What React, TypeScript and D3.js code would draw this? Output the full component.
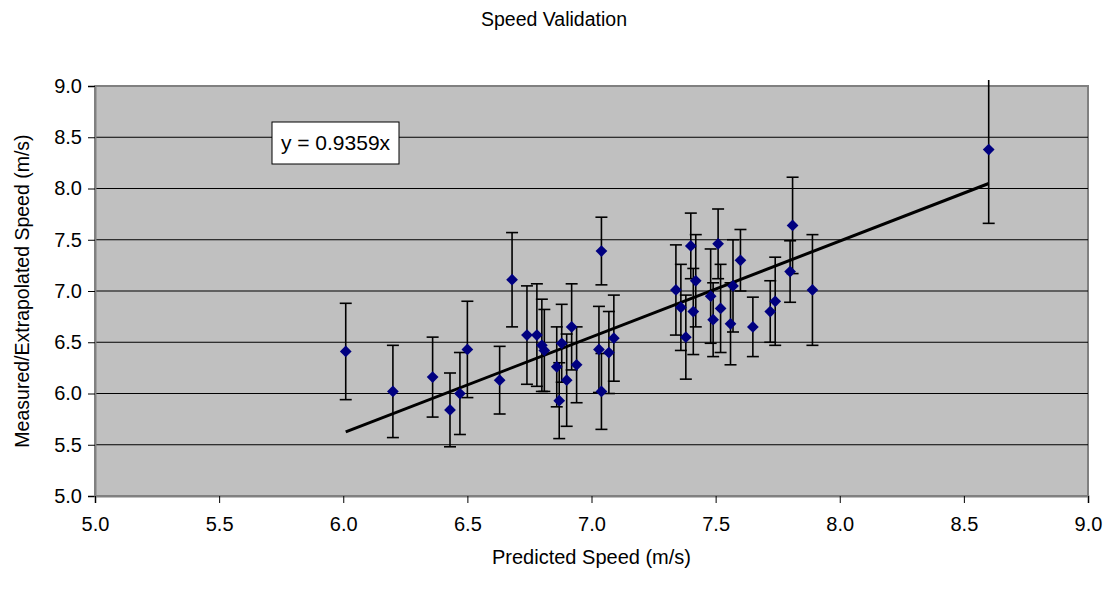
import React, { useEffect, useRef } from "react";
import * as d3 from "d3";

// values
const predicted = [
  6.01, 6.2, 6.36, 6.43, 6.47, 6.5, 6.63, 6.68, 6.74, 6.78, 6.8, 6.81, 6.86,
  6.87, 6.88, 6.9, 6.92, 6.94, 7.03, 7.04, 7.04, 7.07, 7.09, 7.34, 7.36, 7.38,
  7.4, 7.41, 7.42, 7.48, 7.49, 7.51, 7.52, 7.56, 7.57, 7.6, 7.65, 7.72, 7.74,
  7.8, 7.81, 7.89, 8.6,
];
const measured = [
  6.41, 6.02, 6.16, 5.84, 6.0, 6.43, 6.13, 7.11, 6.57, 6.57, 6.47, 6.42, 6.26,
  5.93, 6.49, 6.13, 6.65, 6.28, 6.43, 7.39, 6.02, 6.4, 6.54, 7.01, 6.84, 6.55,
  7.44, 6.8, 7.1, 6.95, 6.72, 7.46, 6.83, 6.68, 7.05, 7.3, 6.65, 6.8, 6.9,
  7.19, 7.64, 7.01, 8.38,
];
const errors = [
  0.47, 0.45, 0.39, 0.36, 0.4, 0.47, 0.33, 0.46, 0.48, 0.5, 0.45, 0.4, 0.39,
  0.37, 0.38, 0.45, 0.42, 0.37, 0.42, 0.33, 0.37, 0.4, 0.42, 0.44, 0.42, 0.41,
  0.32, 0.42, 0.45, 0.46, 0.36, 0.34, 0.43, 0.4, 0.45, 0.3, 0.29, 0.3, 0.43,
  0.3, 0.47, 0.54, 0.72,
];
const ticks = [5.0, 5.5, 6.0, 6.5, 7.0, 7.5, 8.0, 8.5, 9.0];
const slope = 0.9359;
const title = "Speed Validation";
const xLabel = "Predicted Speed (m/s)";
const yLabel = "Measured/Extrapolated Speed (m/s)";

const width = 1107;
const height = 590;
const font = "'Liberation Sans', Arial, sans-serif";

const SpeedChart: React.FC = () => {
  const svgRef = useRef<SVGSVGElement>(null);

  useEffect(() => {
    if (!svgRef.current) return;
    d3.select(svgRef.current).selectAll("*").remove();

    const svg = d3.select(svgRef.current);
    const margin = { top: 86, right: 19, bottom: 94, left: 95 };

    const x = d3
      .scaleLinear()
      .domain([5, 9])
      .range([margin.left, width - margin.right]);
    const y = d3
      .scaleLinear()
      .domain([5, 9])
      .range([height - margin.bottom, margin.top]);

    const [x0, x1] = x.range();
    const [y0, y1] = y.range();

    // plot area
    svg
      .append("rect")
      .attr("x", x0)
      .attr("y", y1)
      .attr("width", x1 - x0)
      .attr("height", y0 - y1)
      .attr("fill", "#c0c0c0")
      .attr("stroke", "#808080")
      .attr("stroke-width", 2);

    // gridlines
    svg
      .append("g")
      .selectAll("line")
      .data(ticks.slice(1, -1))
      .enter()
      .append("line")
      .attr("x1", x0)
      .attr("x2", x1)
      .attr("y1", (d) => y(d))
      .attr("y2", (d) => y(d))
      .attr("stroke", "#000")
      .attr("stroke-width", 1);

    // axes
    const yAxis = svg
      .append("g")
      .attr("transform", `translate(${x0},0)`)
      .call(
        d3
          .axisLeft(y)
          .tickValues(ticks)
          .tickFormat(d3.format(".1f"))
          .tickSizeOuter(0)
          .tickSize(7)
          .tickPadding(6)
      );
    const xAxis = svg
      .append("g")
      .attr("transform", `translate(0,${y0})`)
      .call(
        d3
          .axisBottom(x)
          .tickValues(ticks)
          .tickFormat(d3.format(".1f"))
          .tickSizeOuter(0)
          .tickSize(7)
          .tickPadding(14)
      );
    [yAxis, xAxis].forEach((a) => {
      a.select(".domain").attr("stroke", "#808080").attr("stroke-width", 2);
      a.selectAll(".tick line").attr("stroke", "#000");
      a.selectAll(".tick text")
        .attr("fill", "#000")
        .style("font-family", font)
        .style("font-size", "20px");
    });

    // clip for the error bars (last one runs past the top)
    svg
      .append("clipPath")
      .attr("id", "errclip")
      .append("rect")
      .attr("x", x0)
      .attr("y", y1 - 6)
      .attr("width", x1 - x0)
      .attr("height", y0 - y1 + 6);

    const pts = predicted.map((p, i) => ({
      p,
      m: measured[i],
      e: errors[i],
    }));

    // error bars
    const eb = svg
      .append("g")
      .attr("clip-path", "url(#errclip)")
      .attr("stroke", "#000")
      .attr("stroke-width", 1.6);
    pts.forEach((d) => {
      const cx = x(d.p);
      const top = y(d.m + d.e);
      const bot = y(d.m - d.e);
      eb.append("line")
        .attr("x1", cx)
        .attr("x2", cx)
        .attr("y1", top)
        .attr("y2", bot);
      [top, bot].forEach((yy) =>
        eb
          .append("line")
          .attr("x1", cx - 6)
          .attr("x2", cx + 6)
          .attr("y1", yy)
          .attr("y2", yy)
      );
    });

    // trendline through origin
    const xMin = d3.min(predicted)!;
    const xMax = d3.max(predicted)!;
    svg
      .append("line")
      .attr("x1", x(xMin))
      .attr("y1", y(slope * xMin))
      .attr("x2", x(xMax))
      .attr("y2", y(slope * xMax))
      .attr("stroke", "#000")
      .attr("stroke-width", 3);

    // markers
    svg
      .append("g")
      .selectAll("path")
      .data(pts)
      .enter()
      .append("path")
      .attr("d", d3.symbol().type(d3.symbolDiamond2).size(88)())
      .attr("transform", (d) => `translate(${x(d.p)},${y(d.m)})`)
      .attr("fill", "#000080");

    // equation label
    const eq = svg.append("g");
    eq.append("rect")
      .attr("x", 272)
      .attr("y", 122)
      .attr("width", 127)
      .attr("height", 42)
      .attr("fill", "#fff")
      .attr("stroke", "#000")
      .attr("stroke-width", 1);
    eq.append("text")
      .attr("x", 335.5)
      .attr("y", 150)
      .attr("text-anchor", "middle")
      .style("font-family", font)
      .style("font-size", "21px")
      .text(`y = ${slope}x`);

    // title
    svg
      .append("text")
      .attr("x", 554)
      .attr("y", 26)
      .attr("text-anchor", "middle")
      .style("font-family", font)
      .style("font-size", "19.5px")
      .text(title);

    // x-axis label
    svg
      .append("text")
      .attr("x", (x0 + x1) / 2)
      .attr("y", 564)
      .attr("text-anchor", "middle")
      .style("font-family", font)
      .style("font-size", "20px")
      .text(xLabel);

    // y-axis label
    svg
      .append("text")
      .attr("transform", "rotate(-90)")
      .attr("x", -(y0 + y1) / 2)
      .attr("y", 29)
      .attr("text-anchor", "middle")
      .style("font-family", font)
      .style("font-size", "19.5px")
      .text(yLabel);
  }, []);

  return (
    <svg
      ref={svgRef}
      width={width}
      height={height}
      style={{ position: "absolute", left: 0, top: 0, background: "#fff" }}
    />
  );
};

export default function App() {
  return <SpeedChart />;
}
